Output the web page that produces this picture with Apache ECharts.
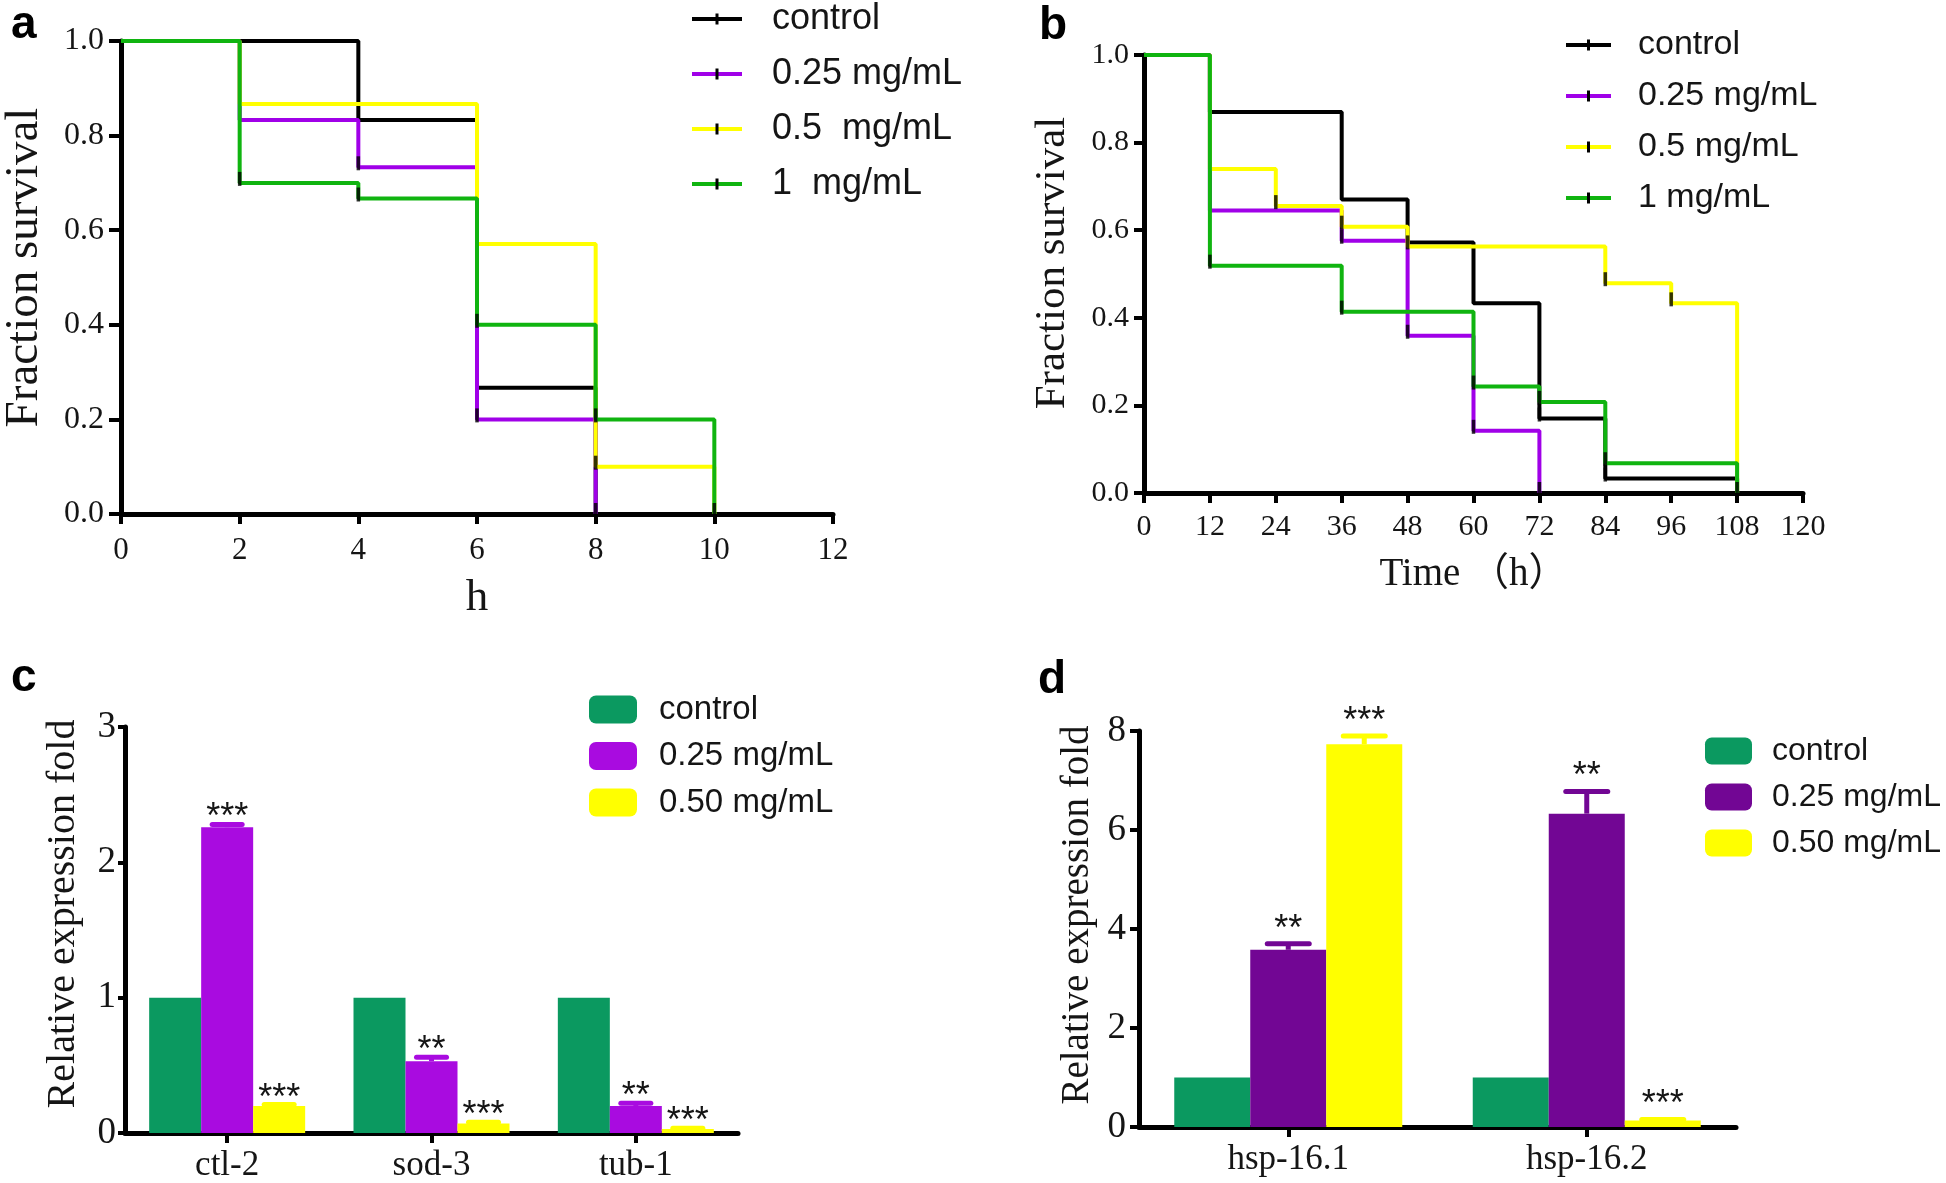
<!DOCTYPE html>
<html>
<head>
<meta charset="utf-8">
<script src="https://cdn.jsdelivr.net/npm/echarts@6/dist/echarts.min.js"></script>
<style>
html,body{margin:0;padding:0;background:#fff;}
#chart{width:1946px;height:1183px;}
</style>
</head>
<body>
<div id="chart"></div>
<script>
// ---------- Panel a: survival (h) ----------
const aLegendNames = ['control', '0.25 mg/mL', '0.5  mg/mL', '1  mg/mL'];
const aControlX = [0, 4, 6, 8];
const aControlY = [1, 0.833, 0.267, 0];
const a025X = [0, 2, 4, 6, 8];
const a025Y = [1, 0.833, 0.733, 0.2, 0];
const a05X = [0, 2, 6, 8, 10];
const a05Y = [1, 0.867, 0.571, 0.1, 0];
const a1X = [0, 2, 4, 6, 8, 10];
const a1Y = [1, 0.7, 0.667, 0.4, 0.2, 0];
const aCensorX = [2, 4, 4, 6, 6, 8, 8, 8, 10];
const aCensorY = [0.7, 0.667, 0.733, 0.4, 0.2, 0.2, 0.1, 0, 0];

// ---------- Panel b: survival (Time h) ----------
const bLegendNames = ['control', '0.25 mg/mL', '0.5 mg/mL', '1 mg/mL'];
const bControlX = [0, 12, 36, 48, 60, 72, 84, 108];
const bControlY = [1, 0.87, 0.67, 0.572, 0.433, 0.17, 0.033, 0];
const b025X = [0, 12, 36, 48, 60, 72];
const b025Y = [1, 0.645, 0.576, 0.359, 0.142, 0];
const b05X = [0, 12, 24, 36, 48, 84, 96, 108];
const b05Y = [1, 0.74, 0.655, 0.608, 0.563, 0.479, 0.433, 0];
const b1X = [0, 12, 36, 60, 72, 84, 108];
const b1Y = [1, 0.519, 0.414, 0.243, 0.208, 0.068, 0];
const bCensorX = [12, 24, 36, 36, 36, 48, 48, 60, 60, 72, 72, 72, 84, 84, 84, 96, 108];
const bCensorY = [0.519, 0.655, 0.608, 0.576, 0.414, 0.359, 0.563, 0.243, 0.142, 0.208, 0.17, 0, 0.479, 0.068, 0.033, 0.433, 0];

// ---------- Panel c: expression ----------
const cCategories = ['ctl-2', 'sod-3', 'tub-1'];
const cLegendNames = ['control', '0.25 mg/mL', '0.50 mg/mL'];
const cControl = [1, 1, 1];
const c025 = [2.26, 0.53, 0.20];
const c050 = [0.20, 0.07, 0.03];
const c025Err = [0.02, 0.03, 0.02];
const c050Err = [0.01, 0.01, 0.005];
const c025Sig = ['***', '**', '**'];
const c050Sig = ['***', '***', '***'];

// ---------- Panel d: expression ----------
const dCategories = ['hsp-16.1', 'hsp-16.2'];
const dLegendNames = ['control', '0.25 mg/mL', '0.50 mg/mL'];
const dControl = [1, 1];
const d025 = [3.58, 6.33];
const d050 = [7.73, 0.13];
const d025Err = [0.12, 0.45];
const d050Err = [0.17, 0.02];
const d025Sig = ['**', '**'];
const d050Sig = ['***', '***'];

// ---------- styles ----------
const SERIF = '"Liberation Serif", "Times New Roman", serif';
const SANS = '"Liberation Sans", Arial, sans-serif';
const lineColors = ['#000000', '#A000E8', '#FFFF00', '#10B410'];
const cColors = ['#0B9960', '#A90BE0', '#FFFF00'];
const dColors = ['#0B9960', '#720694', '#FFFF00'];
const TXT = '#151515';

function zipXY(xs, ys) { return xs.map((x, i) => [x, ys[i]]); }

function legendIcon(color, w) {
  const svg = "<svg xmlns='http://www.w3.org/2000/svg' width='" + w + "' height='12'>" +
    "<rect x='0' y='4' width='" + w + "' height='4' fill='" + color + "'/>" +
    "<rect x='" + (w / 2 - 1.5) + "' y='0.5' width='3' height='11' fill='#000'/></svg>";
  return 'image://data:image/svg+xml;charset=utf-8,' + encodeURIComponent(svg);
}

function valueAxisStyle(o) {
  return Object.assign({
    type: 'value',
    splitLine: { show: false },
    axisLine: { show: true, onZero: false, lineStyle: { color: '#000', width: 5 } },
    axisTick: { show: true, inside: false, lineStyle: { color: '#000', width: 4 } },
    axisLabel: { fontFamily: SERIF, color: TXT },
    nameLocation: 'middle',
    nameTextStyle: { fontFamily: SERIF, color: TXT }
  }, o);
}

const grids = [
  { left: 121, top: 41, width: 712, height: 473 },
  { left: 1144, top: 55, width: 659, height: 438 },
  { left: 125, top: 727, width: 613, height: 406 },
  { left: 1139, top: 731, width: 597, height: 396 }
];

const xAxes = [
  valueAxisStyle({ gridIndex: 0, min: 0, max: 12, interval: 2,
    axisTick: { show: true, length: 10, lineStyle: { color: '#000', width: 4 } },
    axisLabel: { fontFamily: SERIF, color: TXT, fontSize: 31, margin: 21 },
    name: 'h', nameGap: 62, nameTextStyle: { fontFamily: SERIF, color: TXT, fontSize: 45 } }),
  valueAxisStyle({ gridIndex: 1, min: 0, max: 120, interval: 12,
    axisTick: { show: true, length: 10, lineStyle: { color: '#000', width: 4 } },
    axisLabel: { fontFamily: SERIF, color: TXT, fontSize: 30, margin: 19 },
    name: 'Time （h）', nameGap: 62, nameTextStyle: { fontFamily: SERIF + ', "Noto Sans CJK SC"', color: TXT, fontSize: 39 } }),
  { gridIndex: 2, type: 'category', data: cCategories,
    axisLine: { show: true, lineStyle: { color: '#000', width: 5 } },
    axisTick: { show: true, alignWithLabel: true, length: 10, lineStyle: { color: '#000', width: 4 } },
    axisLabel: { fontFamily: SERIF, color: TXT, fontSize: 35, margin: 15 } },
  { gridIndex: 3, type: 'category', data: dCategories,
    axisLine: { show: true, lineStyle: { color: '#000', width: 5 } },
    axisTick: { show: true, alignWithLabel: true, length: 10, lineStyle: { color: '#000', width: 4 } },
    axisLabel: { fontFamily: SERIF, color: TXT, fontSize: 35, margin: 15 } }
];

const yAxes = [
  valueAxisStyle({ gridIndex: 0, min: 0, max: 1, interval: 0.2,
    axisTick: { show: true, length: 12, lineStyle: { color: '#000', width: 4 } },
    axisLabel: { fontFamily: SERIF, color: TXT, fontSize: 32, margin: 17, formatter: v => v.toFixed(1) },
    name: 'Fraction survival', nameGap: 73,
    nameTextStyle: { fontFamily: SERIF, color: TXT, fontSize: 47, padding: [0, 0, 0, 20] } }),
  valueAxisStyle({ gridIndex: 1, min: 0, max: 1, interval: 0.2,
    axisTick: { show: true, length: 10, lineStyle: { color: '#000', width: 4 } },
    axisLabel: { fontFamily: SERIF, color: TXT, fontSize: 30, margin: 15, formatter: v => v.toFixed(1) },
    name: 'Fraction survival', nameGap: 70,
    nameTextStyle: { fontFamily: SERIF, color: TXT, fontSize: 43, padding: [0, 0, 0, 22] } }),
  valueAxisStyle({ gridIndex: 2, min: 0, max: 3, interval: 1,
    axisTick: { show: true, length: 7, lineStyle: { color: '#000', width: 4 } },
    axisLabel: { fontFamily: SERIF, color: TXT, fontSize: 37, margin: 9 },
    name: 'Relative expression fold', nameGap: 42,
    nameTextStyle: { fontFamily: SERIF, color: TXT, fontSize: 40, padding: [0, 0, 0, 32] } }),
  valueAxisStyle({ gridIndex: 3, min: 0, max: 8, interval: 2,
    axisTick: { show: true, length: 9, lineStyle: { color: '#000', width: 4 } },
    axisLabel: { fontFamily: SERIF, color: TXT, fontSize: 37, margin: 13 },
    name: 'Relative expression fold', nameGap: 42,
    nameTextStyle: { fontFamily: SERIF, color: TXT, fontSize: 39, padding: [0, 0, 0, 28] } })
];

function kmSeries(panel, name, xs, ys, color, gi) {
  return {
    name: panel + ':' + name, type: 'line', step: 'end',
    xAxisIndex: gi, yAxisIndex: gi,
    data: zipXY(xs, ys), showSymbol: false, symbol: 'none',
    lineStyle: { color: color, width: 4 }, itemStyle: { color: color },
    animation: false
  };
}
function censorSeries(xs, ys, gi) {
  return {
    type: 'scatter', xAxisIndex: gi, yAxisIndex: gi, data: zipXY(xs, ys),
    symbol: 'rect', symbolSize: [3.5, 14], symbolOffset: [0, -4],
    itemStyle: { color: '#000' }, z: 10, animation: false, silent: true
  };
}
function barSeries(panel, name, vals, color, gi, bw) {
  return {
    name: panel + ':' + name, type: 'bar', xAxisIndex: gi, yAxisIndex: gi,
    data: vals, barWidth: bw, barGap: '0%',
    itemStyle: { color: color }, animation: false
  };
}
function errSeries(gi, valsList, errList, sigList, colors, bw, capW, gap) {
  const data = [], sigs = [];
  valsList.forEach((vals, k) => {
    vals.forEach((v, i) => { data.push([i, k + 1, v, errList[k][i]]); sigs.push(sigList[k][i]); });
  });
  return {
    type: 'custom', xAxisIndex: gi, yAxisIndex: gi, data: data, z: 5, animation: false, silent: true,
    encode: { x: 0, y: 2 },
    renderItem: function (params, api) {
      const cat = api.value(0), grp = api.value(1), val = api.value(2), err = api.value(3);
      const p0 = api.coord([cat, val]);
      const p1 = api.coord([cat, val + err]);
      const x = p0[0] + (grp - 1) * bw;
      const color = colors[grp];
      const ch = [];
      if (p0[1] - p1[1] > 1) {
        ch.push({ type: 'line', shape: { x1: x, y1: p0[1], x2: x, y2: p1[1] }, style: { stroke: color, lineWidth: 5 } });
      }
      ch.push({ type: 'line', shape: { x1: x - capW / 2, y1: p1[1], x2: x + capW / 2, y2: p1[1] }, style: { stroke: color, lineWidth: 5, lineCap: 'round' } });
      ch.push({ type: 'text', x: x, y: p1[1] - gap + 5,
        style: { text: sigs[params.dataIndex], fontSize: 36, fontFamily: SANS, fill: TXT, align: 'center', verticalAlign: 'middle' } });
      return { type: 'group', children: ch };
    }
  };
}

const series = [
  kmSeries('a', aLegendNames[0], aControlX, aControlY, lineColors[0], 0),
  kmSeries('a', aLegendNames[1], a025X, a025Y, lineColors[1], 0),
  kmSeries('a', aLegendNames[2], a05X, a05Y, lineColors[2], 0),
  kmSeries('a', aLegendNames[3], a1X, a1Y, lineColors[3], 0),
  censorSeries(aCensorX, aCensorY, 0),
  kmSeries('b', bLegendNames[0], bControlX, bControlY, lineColors[0], 1),
  kmSeries('b', bLegendNames[1], b025X, b025Y, lineColors[1], 1),
  kmSeries('b', bLegendNames[2], b05X, b05Y, lineColors[2], 1),
  kmSeries('b', bLegendNames[3], b1X, b1Y, lineColors[3], 1),
  censorSeries(bCensorX, bCensorY, 1),
  barSeries('c', cLegendNames[0], cControl, cColors[0], 2, 52),
  barSeries('c', cLegendNames[1], c025, cColors[1], 2, 52),
  barSeries('c', cLegendNames[2], c050, cColors[2], 2, 52),
  errSeries(2, [c025, c050], [c025Err, c050Err], [c025Sig, c050Sig], cColors, 52, 30, 11),
  barSeries('d', dLegendNames[0], dControl, dColors[0], 3, 76),
  barSeries('d', dLegendNames[1], d025, dColors[1], 3, 76),
  barSeries('d', dLegendNames[2], d050, dColors[2], 3, 76),
  errSeries(3, [d025, d050], [d025Err, d050Err], [d025Sig, d050Sig], dColors, 76, 42, 19)
];

const stripName = n => n.slice(2);
const legends = [
  { left: 692, top: 1, padding: 0, orient: 'vertical', itemWidth: 50, itemHeight: 12, itemGap: 19,
    data: aLegendNames.map((n, i) => ({ name: 'a:' + n, icon: legendIcon(lineColors[i], 50) })),
    formatter: stripName, selectedMode: false,
    textStyle: { fontFamily: SANS, fontSize: 36, color: TXT, padding: [0, 0, 0, 25] } },
  { left: 1566, top: 28, padding: 0, orient: 'vertical', itemWidth: 45, itemHeight: 12, itemGap: 17,
    data: bLegendNames.map((n, i) => ({ name: 'b:' + n, icon: legendIcon(lineColors[i], 45) })),
    formatter: stripName, selectedMode: false,
    textStyle: { fontFamily: SANS, fontSize: 34, color: TXT, padding: [0, 0, 0, 22] } },
  { left: 589, top: 693, padding: 0, orient: 'vertical', itemWidth: 48, itemHeight: 28, itemGap: 13.5,
    data: cLegendNames.map(n => ({ name: 'c:' + n, icon: 'roundRect' })),
    formatter: stripName, selectedMode: false,
    textStyle: { fontFamily: SANS, fontSize: 33, color: TXT, padding: [0, 0, 0, 17] } },
  { left: 1705, top: 735, padding: 0, orient: 'vertical', itemWidth: 47, itemHeight: 27, itemGap: 14,
    data: dLegendNames.map(n => ({ name: 'd:' + n, icon: 'roundRect' })),
    formatter: stripName, selectedMode: false,
    textStyle: { fontFamily: SANS, fontSize: 32, color: TXT, padding: [0, 0, 0, 15] } }
];

const panelLetter = (t, left, top) => ({ text: t, left: left, top: top, padding: 0,
  textStyle: { fontFamily: SANS, fontSize: 46, fontWeight: 'bold', color: '#000' } });

const option = {
  backgroundColor: '#ffffff',
  animation: false,
  title: [panelLetter('a', 11, 2), panelLetter('b', 1039, 3), panelLetter('c', 11, 655), panelLetter('d', 1038, 657)],
  legend: legends,
  grid: grids,
  xAxis: xAxes,
  yAxis: yAxes,
  series: series
};

const chart = echarts.init(document.getElementById('chart'), null, { renderer: 'canvas' });
chart.setOption(option);
</script>
</body>
</html>
